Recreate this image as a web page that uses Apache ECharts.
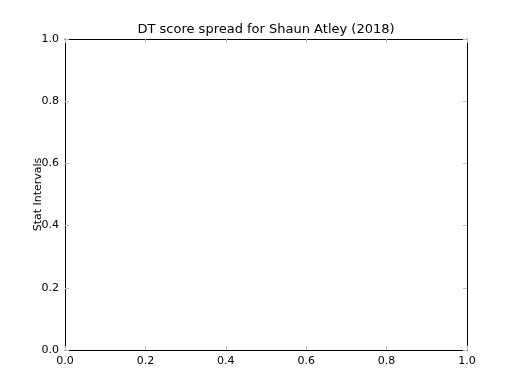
<!DOCTYPE html>
<html>
<head>
<meta charset="utf-8">
<script src="https://cdn.jsdelivr.net/npm/echarts@6/dist/echarts.min.js"></script>
<style>html,body{margin:0;padding:0;background:#fff;}#c{width:520px;height:390px;}</style>
</head>
<body>
<div id="c"></div>
<script>
const titleText = "DT score spread for Shaun Atley (2018)";
const yAxisName = "Stat Intervals";
const xTicks = [0.0, 0.2, 0.4, 0.6, 0.8, 1.0];
const yTicks = [0.0, 0.2, 0.4, 0.6, 0.8, 1.0];
const seriesX = [];
const seriesY = [];

const font = "DejaVu Sans";
const chart = echarts.init(document.getElementById('c'), null, {renderer: 'canvas'});
const tickStep = xTicks[1] - xTicks[0];
const axisBase = {
  type: 'value',
  interval: tickStep,
  axisLine: {show: true, onZero: false, lineStyle: {color: '#000', width: 1}},
  axisTick: {show: true, inside: true, length: 4, lineStyle: {color: '#bbb', width: 1}},
  splitLine: {show: false},
  axisLabel: {color: '#000', fontFamily: font, fontSize: 11, formatter: v => v.toFixed(1)}
};
chart.setOption({
  animation: false,
  backgroundColor: '#fff',
  grid: {left: 65, right: 53, top: 39, bottom: 40, containLabel: false},
  graphic: [{
    type: 'text', x: 266, y: 23,
    style: {text: titleText, fontFamily: font, fontSize: 13, fill: '#000', align: 'center', verticalAlign: 'top'}
  }],
  xAxis: [
    Object.assign({}, axisBase, {position: 'bottom', min: xTicks[0], max: xTicks[xTicks.length-1],
      axisLabel: Object.assign({}, axisBase.axisLabel, {margin: 6})}),
    Object.assign({}, axisBase, {position: 'top', min: xTicks[0], max: xTicks[xTicks.length-1], axisLabel: {show: false}})
  ],
  yAxis: [
    Object.assign({}, axisBase, {position: 'left', min: yTicks[0], max: yTicks[yTicks.length-1],
      name: yAxisName, nameLocation: 'middle', nameRotate: 90, nameGap: 21, nameMoveOverlap: false,
      nameTextStyle: {fontFamily: font, fontSize: 11, color: '#000'},
      axisLabel: Object.assign({}, axisBase.axisLabel, {margin: 6})}),
    Object.assign({}, axisBase, {position: 'right', min: yTicks[0], max: yTicks[yTicks.length-1], axisLabel: {show: false}})
  ],
  series: [{
    type: 'scatter', xAxisIndex: 0, yAxisIndex: 0,
    data: seriesX.map((x, i) => [x, seriesY[i]])
  }]
});
</script>
</body>
</html>
